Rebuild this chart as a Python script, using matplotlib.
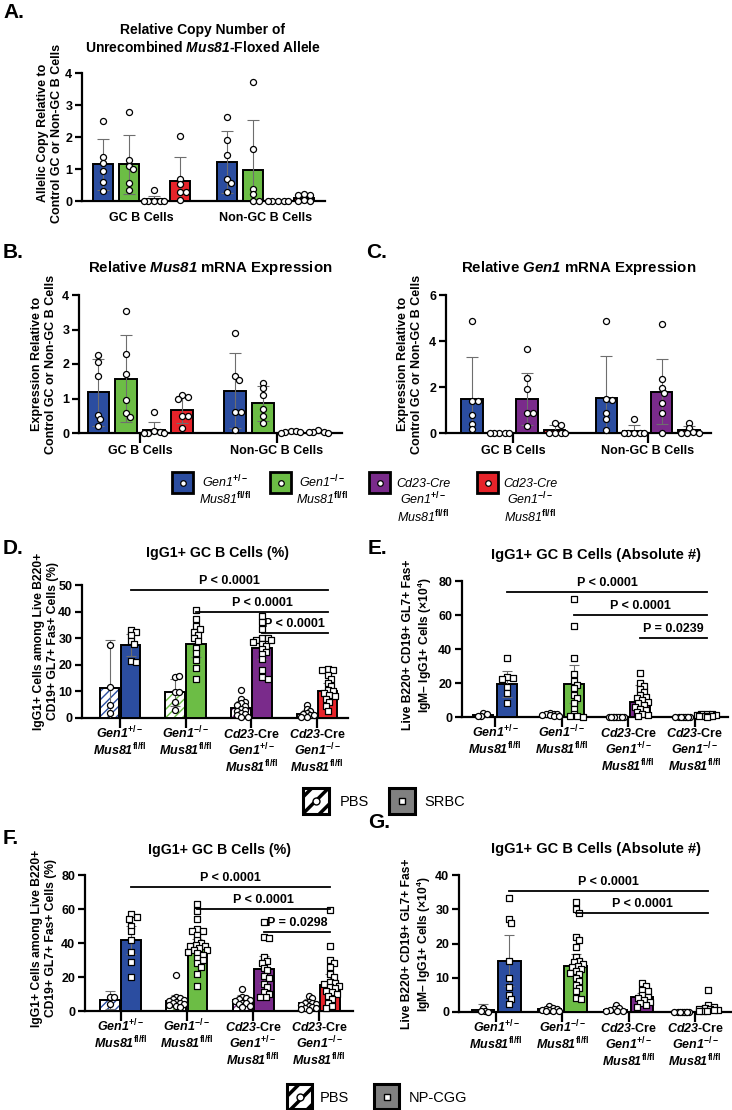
import numpy as np
import matplotlib
matplotlib.use("Agg")
import matplotlib.pyplot as plt
from matplotlib.patches import Rectangle

# ---- data: panels A-C (two cell groups x four genotypes) ----
cell_groups = ["GC B Cells", "Non-GC B Cells"]

a_mean = [[1.15, 1.15, 0.05, 0.63], [1.23, 0.98, 0.0, 0.08]]
a_sd = [[0.80, 0.92, 0.12, 0.75], [0.97, 1.55, 0.0, 0.10]]
a_pts = [
    [[2.5, 1.38, 1.2, 0.93, 0.58, 0.32], [2.78, 1.28, 1.09, 0.99, 0.55, 0.34],
     [0.33, 0, 0, 0, 0, 0], [2.02, 0.69, 0.52, 0.29, 0.29, 0.02]],
    [[2.62, 1.9, 1.45, 0.68, 0.55, 0.27], [3.72, 1.63, 0.38, 0.22, 0.0, 0.0],
     [0, 0, 0, 0, 0], [0.22, 0.2, 0.18, 0.02, 0.0, 0.0]],
]

b_mean = [[1.18, 1.57, 0.08, 0.68], [1.23, 0.86, 0.03, 0.03]]
b_sd = [[0.97, 1.26, 0.23, 0.39], [1.08, 0.51, 0.02, 0.02]]
b_pts = [
    [[2.27, 2.05, 1.66, 0.53, 0.4, 0.2], [3.54, 2.29, 1.7, 0.96, 0.57, 0.45],
     [0.6, 0.05, 0.03, 0, 0, 0], [1.1, 1.05, 1.0, 0.5, 0.48, 0.15]],
    [[2.9, 1.65, 1.55, 0.62, 0.6, 0.08], [1.45, 1.3, 1.1, 0.7, 0.5, 0.3],
     [0.05, 0.06, 0.03, 0.02, 0.0], [0.08, 0.03, 0.02, 0.03, 0.01]],
]

c_mean = [[1.47, 0.0, 1.48, 0.13], [1.52, 0.1, 1.8, 0.12]]
c_sd = [[1.83, 0.0, 1.14, 0.2], [1.81, 0.25, 1.4, 0.17]]
c_pts = [
    [[4.87, 1.4, 1.37, 0.8, 0.4, 0.17], [0, 0, 0, 0, 0],
     [3.64, 2.41, 1.92, 0.87, 0.87, 0.29], [0.45, 0.35, 0, 0, 0, 0]],
    [[4.88, 1.48, 1.42, 0.85, 0.6, 0.15], [0.6, 0, 0, 0, 0, 0],
     [4.75, 2.35, 1.95, 1.75, 1.3, 0.85, 0.0], [0.43, 0.2, 0.05, 0, 0, 0]],
]

# ---- data: panels D-G (four genotypes x PBS / immunised) ----
d_pbs_mean = [11.3, 9.7, 3.8, 1.5]
d_pbs_sd = [17.9, 5.1, 2.7, 1.5]
d_pbs_pts = [
    [27.3, 11.6, 5.0, 1.9],
    [15.6, 15.9, 9.6, 9.8, 5.9, 2.9],
    [10.5, 7.0, 6.2, 5.5, 5.0, 4.5, 3.5, 3.0, 2.5, 2.0, 1.5, 1.0, 0.5, 0.3],
    [5.0, 3.5, 2.5, 2.0, 1.5, 1.0, 1.0, 0.5, 0.2],
]
d_imm_mean = [27.5, 28.0, 26.3, 10.0]
d_imm_sd = [4.2, 5.0, 4.0, 3.0]
d_imm_pts = [
    [33.0, 32.5, 31.2, 29.0, 28.0, 21.5, 21.0],
    [40.5, 37.2, 34.6, 33.4, 32.5, 31.2, 30.0, 29.0, 26.5, 24.4, 21.9, 18.7, 14.6],
    [38.5, 36.0, 33.5, 30.0, 30.0, 29.5, 29.5, 28.5, 28.0, 27.0, 26.0, 25.0, 24.0,
     22.0, 18.0, 15.5, 14.8],
    [18.4, 17.9, 18.0, 16.2, 14.7, 13.1, 12.0, 10.6, 10.3, 9.4, 8.5, 8.1, 7.0, 5.9,
     4.4, 2.5],
]
d_sig = [(0, 48.1, "P < 0.0001"), (1, 39.8, "P < 0.0001"), (2, 32.0, "P < 0.0001")]

e_pbs_mean = [0.9, 1.2, 0.2, 0.1]
e_pbs_sd = [1.0, 0.8, 0.2, 0.1]
e_pbs_pts = [
    [2.5, 1.5, 0.5, 0.3],
    [2.5, 2.0, 1.5, 1.5, 1.0, 1.0, 0.5, 0.3],
    [0.2, 0.1, 0.1, 0.1, 0.1, 0.1, 0.1, 0.1, 0.1],
    [0.1, 0.1, 0.1, 0.1, 0.1, 0.1, 0.1, 0.1],
]
e_imm_mean = [19.5, 19.3, 8.8, 1.0]
e_imm_sd = [7.5, 11.2, 10.2, 0.6]
e_imm_pts = [
    [35, 23.5, 23, 22.5, 17.5, 14, 8],
    [69.5, 53.5, 35, 25.5, 21, 19, 17, 13, 11, 8, 5, 2, 0.5, 0.3, 0.2],
    [26, 20, 18, 16.5, 15, 13, 12, 11, 10, 9, 8, 7, 6, 5, 4, 3, 2, 1, 0.5],
    [2, 1.8, 1.5, 1.2, 1, 0.8, 0.6, 0.5, 0.3, 0.2],
]
e_sig = [(0, 73.5, "P < 0.0001"), (1, 60.0, "P < 0.0001"), (2, 46.5, "P = 0.0239")]

f_pbs_mean = [6.5, 6.0, 6.2, 4.5]
f_pbs_sd = [5.5, 3.5, 3.3, 2.5]
f_pbs_pts = [
    [8.3, 8.2, 4.3],
    [21, 8, 7.5, 7, 6.5, 6, 5.5, 5, 4.5, 4, 3.5, 3, 2.5],
    [13, 8, 7.5, 7, 6.5, 6, 5, 4.5, 4, 3, 2.5],
    [9, 7.5, 5.5, 5, 4.5, 4, 3.5, 3, 2.5, 2, 1.5, 1, 0.5],
]
f_imm_mean = [41.8, 38.5, 24.5, 15.5]
f_imm_sd = [8.2, 4.0, 8.0, 6.0]
f_imm_pts = [
    [56.8, 55.4, 54.4, 50, 47.1, 41.7, 35, 29, 20],
    [63, 59, 54, 48, 47, 47, 45, 42, 40, 39, 38.5, 38, 37, 36, 36, 35, 34, 33, 31,
     30, 28, 26, 22, 14.5],
    [52.5, 43.5, 43, 31.5, 29.5, 28.5, 25.5, 24, 20.5, 19.5, 16, 14, 11, 10, 8.5, 8],
    [59.5, 38.5, 30, 28, 26, 22, 20, 17, 16.5, 16, 15, 14, 13.5, 12, 11, 10, 9, 7,
     5, 3, 2],
]
f_sig = [(0, 73.0, "P < 0.0001"), (1, 60.0, "P < 0.0001"), (2, 46.5, "P = 0.0298")]

g_pbs_mean = [0.7, 0.8, 0.7, 0.1]
g_pbs_sd = [1.5, 0.5, 0.6, 0.1]
g_pbs_pts = [
    [1.3, 0.3, 0.2, 0.1],
    [1.7, 1.2, 1.0, 0.8, 0.7, 0.5, 0.4, 0.3, 0.2],
    [2.0, 1.2, 1.0, 0.6, 0.4, 0.3, 0.2],
    [0.1, 0.1, 0.1, 0.1, 0.1, 0.1, 0.1, 0.1],
]
g_imm_mean = [15.0, 13.5, 4.5, 1.0]
g_imm_sd = [7.5, 3.5, 1.0, 1.0]
g_imm_pts = [
    [33.3, 27.2, 26.0, 15.0, 9.8, 7.3, 5.0, 3.8, 2.2],
    [32.2, 30.0, 29.0, 22.0, 21.0, 19.0, 16.0, 15.0, 14.5, 14.0, 13.5, 13.0, 12.5,
     12.0, 11.5, 11.0, 10.0, 9.0, 8.0, 7.0, 6.0, 4.0, 3.8],
    [8.5, 7.5, 6.5, 6.0, 5.0, 4.5, 4.0, 3.5, 3.0, 2.5, 2.0, 1.5],
    [6.5, 2.0, 1.5, 1.2, 1.0, 0.8, 0.6, 0.5, 0.4, 0.3, 0.2],
]
g_sig = [(0, 35.3, "P < 0.0001"), (1, 29.0, "P < 0.0001")]

# genotype names, one list of lines per genotype
geno_ticks = [
    ["$\\mathcal{Gen1}^{+/-}$", "$\\mathcal{Mus81}^{\\mathrm{fl/fl}}$"],
    ["$\\mathcal{Gen1}^{-/-}$", "$\\mathcal{Mus81}^{\\mathrm{fl/fl}}$"],
    ["$\\mathcal{Cd23}$-Cre", "$\\mathcal{Gen1}^{+/-}$", "$\\mathcal{Mus81}^{\\mathrm{fl/fl}}$"],
    ["$\\mathcal{Cd23}$-Cre", "$\\mathcal{Gen1}^{-/-}$", "$\\mathcal{Mus81}^{\\mathrm{fl/fl}}$"],
]
legend_geno = [
    ["Gen1$^{\\mathtt{+/-}}$", "Mus81$^{\\mathtt{fl/fl}}$"],
    ["Gen1$^{\\mathtt{-/-}}$", "Mus81$^{\\mathtt{fl/fl}}$"],
    ["Cd23-Cre", "Gen1$^{\\mathtt{+/-}}$", "Mus81$^{\\mathtt{fl/fl}}$"],
    ["Cd23-Cre", "Gen1$^{\\mathtt{-/-}}$", "Mus81$^{\\mathtt{fl/fl}}$"],
]

colors = ["#2B4DA0", "#6CBD45", "#7A2B8B", "#E6232A"]

# ---- style ----
W, H = 732, 1110
plt.rcParams["font.family"] = ["Liberation Sans", "DejaVu Sans"]
plt.rcParams["font.weight"] = "bold"
plt.rcParams["axes.labelweight"] = "bold"
plt.rcParams["mathtext.fontset"] = "custom"
plt.rcParams["mathtext.rm"] = "Liberation Sans:bold"
plt.rcParams["mathtext.it"] = "Liberation Sans:italic:bold"
plt.rcParams["mathtext.cal"] = "Liberation Sans:italic:bold"
plt.rcParams["mathtext.bf"] = "Liberation Sans:bold"
plt.rcParams["mathtext.sf"] = "Liberation Sans:italic"
plt.rcParams["mathtext.tt"] = "Liberation Sans"
plt.rcParams["hatch.linewidth"] = 1.0

fig = plt.figure(figsize=(W / 100, H / 100), dpi=100)


def px_axes(x0, y0, x1, y1):
    return fig.add_axes([x0 / W, 1 - y1 / H, (x1 - x0) / W, (y1 - y0) / H])


def style(ax, ymax, ystep, xlim, xticks):
    ax.set_xlim(*xlim)
    ax.set_ylim(0, ymax)
    ax.set_yticks(np.arange(0, ymax + 0.01, ystep))
    for s in ["top", "right"]:
        ax.spines[s].set_visible(False)
    for s in ["left", "bottom"]:
        ax.spines[s].set_linewidth(1.6)
    ax.tick_params(axis="y", length=5, width=1.6, labelsize=9, pad=2)
    ax.tick_params(axis="x", length=7 if xticks else 0, width=1.6, labelsize=9,
                   pad=2 if xticks else 8)


def swarm(ax, xc, vals, marker, diam=6.6, sep=0.72, maxspread=11.0):
    # simple beeswarm in pixel space, points kept within about a bar width
    vals = np.asarray(vals, dtype=float)
    pts = ax.transData.transform(np.column_stack([np.full(len(vals), xc), vals]))
    ppu = ax.transData.transform([[1, 0]])[0, 0] - ax.transData.transform([[0, 0]])[0, 0]
    step = diam * 0.3
    cands = [0.0]
    k = 1
    while k * step <= maxspread:
        cands += [k * step, -k * step]
        k += 1
    placed = []
    xs = []
    for y in pts[:, 1]:
        best, best_d = 0.0, -1.0
        for c in cands:
            d = min([np.hypot(c - px, y - py) for px, py in placed] or [1e9])
            if d >= diam * sep:
                best = c
                break
            if d > best_d:
                best, best_d = c, d
        placed.append((best, y))
        xs.append(xc + best / ppu)
    ax.scatter(xs, vals, s=19 if marker == "o" else 17, marker=marker, facecolor="white",
               edgecolor="black", linewidth=0.9, zorder=5, clip_on=False)


def errbar(ax, x, m, s, cap):
    ax.errorbar(x, m, yerr=s, fmt="none", ecolor="#6E6E6E", elinewidth=0.8,
                capsize=cap, capthick=0.8, zorder=4)


def draw_abc(ax, means, sds, pts, ymax, ystep, xlim, xticks=True):
    style(ax, ymax, ystep, xlim, xticks)
    offs = (np.arange(4) - 1.5) * 0.205
    for gi in range(2):
        for bi in range(4):
            x = gi + offs[bi]
            ax.bar(x, means[gi][bi], width=0.16, color=colors[bi], edgecolor="black",
                   linewidth=1.4, zorder=3)
            errbar(ax, x, means[gi][bi], sds[gi][bi], 4)
            swarm(ax, x, pts[gi][bi], "o", maxspread=11)
    ax.set_xticks([0, 1])
    ax.set_xticklabels(cell_groups)


def draw_dg(ax, pm, ps, pp, im, isd, ip, sig, ymax, ystep, xlim, off, w):
    style(ax, ymax, ystep, xlim, True)
    for i in range(4):
        xp, xi = i - off, i + off
        ax.bar(xp, pm[i], w, color="white", edgecolor=colors[i], hatch="////",
               linewidth=0, zorder=3)
        ax.bar(xp, pm[i], w, fill=False, edgecolor="black", linewidth=1.4, zorder=3.1)
        ax.bar(xi, im[i], w, color=colors[i], edgecolor="black", linewidth=1.4, zorder=3)
        errbar(ax, xp, pm[i], ps[i], 3.5)
        errbar(ax, xi, im[i], isd[i], 3.5)
        swarm(ax, xp, pp[i], "o", diam=6.2, sep=0.6, maxspread=11)
        swarm(ax, xi, ip[i], "s", diam=6.2, sep=0.72, maxspread=11)
    for gi, y, txt in sig:
        x0, x1 = gi + off, 3 + off
        ax.plot([x0, x1], [y, y], color="black", linewidth=1.3, clip_on=False, zorder=6)
        ax.annotate(txt, ((x0 + x1) / 2, y), xytext=(0, 2), textcoords="offset points",
                    ha="center", va="bottom", fontsize=9, annotation_clip=False)
    ax.set_xticks(range(4))
    ax.set_xticklabels([""] * 4)
    for i, lines in enumerate(geno_ticks):
        for j, line in enumerate(lines):
            ax.annotate(line, (i, 0), xycoords=("data", "axes fraction"),
                        xytext=(0, -14.5 - 12.4 * j), textcoords="offset points",
                        ha="center", va="baseline", fontsize=9, annotation_clip=False)


def ptext(x, y, s, **kw):
    fig.text(x / W, 1 - y / H, s, **kw)


# ---- panel A ----
axA = px_axes(82, 73, 325, 201)
draw_abc(axA, a_mean, a_sd, a_pts, 4, 1, (-0.48, 1.48), xticks=False)
ptext(203, 39, "Relative Copy Number of\nUnrecombined $\\mathcal{Mus81}$-Floxed Allele",
      ha="center", va="center", fontsize=10, linespacing=1.25)
ptext(50, 133, "Allelic Copy Relative to\nControl GC or Non-GC B Cells", rotation=90,
      ha="center", va="center", fontsize=9)

# ---- panel B ----
axB = px_axes(79, 295, 342, 433)
draw_abc(axB, b_mean, b_sd, b_pts, 4, 1, (-0.45, 1.48))
ptext(210, 268, "Relative $\\mathcal{Mus81}$ mRNA Expression", ha="center", va="center",
      fontsize=10.8)
ptext(44, 364, "Expression Relative to\nControl GC or Non-GC B Cells", rotation=90,
      ha="center", va="center", fontsize=9)

# ---- panel C ----
axC = px_axes(446, 295, 711, 433)
draw_abc(axC, c_mean, c_sd, c_pts, 6, 2, (-0.5, 1.47))
ptext(579, 268, "Relative $\\mathcal{Gen1}$ mRNA Expression", ha="center", va="center",
      fontsize=10.8)
ptext(410, 364, "Expression Relative to\nControl GC or Non-GC B Cells", rotation=90,
      ha="center", va="center", fontsize=9)

# genotype legend under B/C
lax = fig.add_axes([0, 0, 1, 1])
lax.set_xlim(0, W)
lax.set_ylim(H, 0)
lax.axis("off")
for box_x, txt_x, col, lines in zip([172, 270, 369, 477], [225, 322, 423, 530], colors,
                                     legend_geno):
    lax.add_patch(Rectangle((box_x, 472), 21, 21, facecolor=col, edgecolor="black",
                            linewidth=2))
    lax.plot(box_x + 10.5, 482.5, "o", ms=4, mfc="white", mec="black", mew=0.9)
    for j, line in enumerate(lines):
        lax.text(txt_x, 487 + 17.5 * j, line, ha="center", va="baseline", fontsize=9,
                 style="italic", weight="normal")

# ---- panel D ----
axD = px_axes(82, 585, 348, 718)
draw_dg(axD, d_pbs_mean, d_pbs_sd, d_pbs_pts, d_imm_mean, d_imm_sd, d_imm_pts, d_sig,
        50, 10, (-0.58, 3.47), 0.16, 0.3)
ptext(217, 553, "IgG1+ GC B Cells (%)", ha="center", va="center", fontsize=10.2)
ptext(46, 641, "IgG1+ Cells among Live B220+\nCD19+ GL7+ Fas+ Cells (%)", rotation=90,
      ha="center", va="center", fontsize=8.7)

# ---- panel E ----
axE = px_axes(462, 581, 728, 717)
draw_dg(axE, e_pbs_mean, e_pbs_sd, e_pbs_pts, e_imm_mean, e_imm_sd, e_imm_pts, e_sig,
        80, 20, (-0.5, 3.5), 0.18, 0.3)
ptext(596, 555, "IgG1+ GC B Cells (Absolute #)", ha="center", va="center", fontsize=10.5)
ptext(418, 645, "Live B220+ CD19+ GL7+ Fas+\nIgM\u2013 IgG1+ Cells (\u00d710$^{4}$)",
      rotation=90, ha="center", va="center", fontsize=8.7)


def treat_legend(items, y, size):
    for bx, tx, lab, kind in items:
        p = Rectangle((bx, y), size, size, facecolor="white" if kind == "pbs" else "#808080",
                      edgecolor="black", hatch="//" if kind == "pbs" else None, linewidth=2.2)
        if kind == "pbs" and hasattr(p, "set_hatch_linewidth"):
            p.set_hatch_linewidth(2.5)
        lax.add_patch(p)
        lax.plot(bx + size / 2, y + size / 2, "o" if kind == "pbs" else "s",
                 ms=5 if kind == "pbs" else 4.5, mfc="white", mec="black", mew=1)
        lax.text(tx, y + size / 2 + 1, lab, ha="left", va="center", fontsize=10.5,
                 weight="normal")


treat_legend([(303, 340, "PBS", "pbs"), (389, 424, "SRBC", "imm")], 788, 26)

# ---- panel F ----
axF = px_axes(85, 875, 353, 1011)
draw_dg(axF, f_pbs_mean, f_pbs_sd, f_pbs_pts, f_imm_mean, f_imm_sd, f_imm_pts, f_sig,
        80, 20, (-0.54, 3.51), 0.16, 0.3)
ptext(220, 850, "IgG1+ GC B Cells (%)", ha="center", va="center", fontsize=10.2)
ptext(44, 938, "IgG1+ Cells among Live B220+\nCD19+ GL7+ Fas+ Cells (%)", rotation=90,
      ha="center", va="center", fontsize=8.7)

# ---- panel G ----
axG = px_axes(459, 875, 731, 1012)
draw_dg(axG, g_pbs_mean, g_pbs_sd, g_pbs_pts, g_imm_mean, g_imm_sd, g_imm_pts, g_sig,
        40, 10, (-0.56, 3.54), 0.2, 0.34)
ptext(596, 849, "IgG1+ GC B Cells (Absolute #)", ha="center", va="center", fontsize=10.5)
ptext(417, 944, "Live B220+ CD19+ GL7+ Fas+\nIgM\u2013 IgG1+ Cells (\u00d710$^{4}$)",
      rotation=90, ha="center", va="center", fontsize=8.7)

treat_legend([(287, 320, "PBS", "pbs"), (374, 409, "NP-CGG", "imm")], 1084, 25)

# panel letters
for x, y, letter in [(3, 12, "A."), (3, 252, "B."), (366, 252, "C."), (3, 548, "D."),
                     (368, 548, "E."), (3, 838, "F."), (368, 823, "G.")]:
    ptext(x, y, letter, ha="left", va="center", fontsize=15)

fig.savefig("out.png", dpi=100)
